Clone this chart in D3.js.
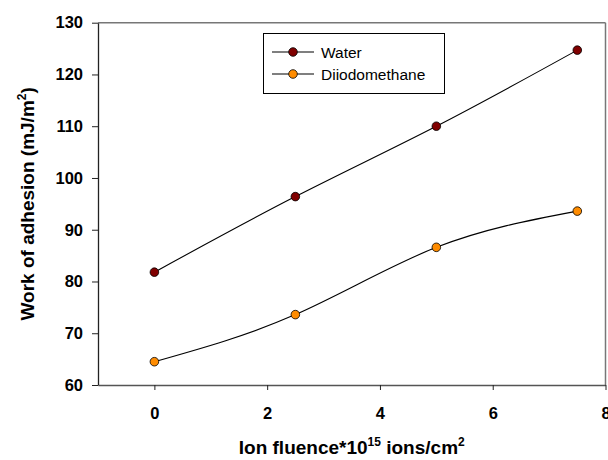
<!DOCTYPE html>
<html><head><meta charset="utf-8">
<script src="https://cdn.jsdelivr.net/npm/d3@7"></script>
<style>body{margin:0;background:#fff}svg{display:block;font-family:"Liberation Sans",Arial,sans-serif}</style>
</head><body><svg id="c" width="608" height="460"></svg>
<script>
const fluence = [0, 2.5, 5, 7.5];
const water = [81.8, 96.4, 110.0, 124.7];
const diiodomethane = [64.5, 73.6, 86.6, 93.6];
const xTicks = [0, 2, 4, 6, 8];
const yTicks = [60, 70, 80, 90, 100, 110, 120, 130];
const seriesNames = ["Water", "Diiodomethane"];
const seriesColors = ["#800000", "#FF8C00"];

const svg = d3.select("#c");
const L = 98, R = 605.5, T = 22.7, B = 385;
const x = d3.scaleLinear().domain([-1, 8]).range([L, R]);
const y = d3.scaleLinear().domain([60, 130]).range([B, T]);

// frame
svg.append("line").attr("x1", L).attr("x2", R).attr("y1", T).attr("y2", T).attr("stroke", "#777").attr("stroke-width", 1.5);
svg.append("line").attr("x1", R).attr("x2", R).attr("y1", T).attr("y2", B).attr("stroke", "#777").attr("stroke-width", 1.5);

const xa = svg.append("g").attr("transform", `translate(0,${B})`)
  .call(d3.axisBottom(x).tickValues(xTicks).tickSize(5).tickPadding(17).tickSizeOuter(0));
const ya = svg.append("g").attr("transform", `translate(${L},0)`)
  .call(d3.axisLeft(y).tickValues(yTicks).tickSize(6).tickPadding(9).tickSizeOuter(0));
[xa, ya].forEach(a => {
  a.select(".domain").attr("stroke", "#222").attr("stroke-width", 1.3);
  a.selectAll(".tick line").attr("stroke", "#222").attr("stroke-width", 1);
  a.selectAll("text").attr("font-size", 16.5).attr("font-weight", "bold").attr("fill", "#000")
    .attr("font-family", "'Liberation Sans',Arial,sans-serif");
});
xa.select(".domain").attr("stroke", "#555");

const data = [water, diiodomethane];
const line = d3.line().x((d, i) => x(fluence[i])).y(d => y(d)).curve(d3.curveNatural);
data.forEach((s, k) => {
  svg.append("path").attr("d", line(s)).attr("fill", "none").attr("stroke", "#000").attr("stroke-width", 1.1);
  svg.selectAll(null).data(s).enter().append("circle")
    .attr("cx", (d, i) => x(fluence[i])).attr("cy", d => y(d)).attr("r", 4.3)
    .attr("fill", seriesColors[k]).attr("stroke", "#000").attr("stroke-width", 0.8);
});

// legend
const lg = svg.append("g");
lg.append("rect").attr("x", 263.5).attr("y", 33.5).attr("width", 181).attr("height", 60)
  .attr("fill", "#fff").attr("stroke", "#000").attr("stroke-width", 1);
seriesNames.forEach((n, k) => {
  const yy = 52 + k * 22;
  lg.append("line").attr("x1", 272).attr("x2", 314).attr("y1", yy).attr("y2", yy).attr("stroke", "#000").attr("stroke-width", 1.1);
  lg.append("circle").attr("cx", 293).attr("cy", yy).attr("r", 4.3).attr("fill", seriesColors[k]).attr("stroke", "#000").attr("stroke-width", 0.8);
  lg.append("text").attr("x", 321).attr("y", yy + 5.5).attr("font-size", 15.5).text(n);
});

// axis titles
const xt = svg.append("text").attr("x", (L + R) / 2).attr("y", 454).attr("text-anchor", "middle")
  .attr("font-size", 19).attr("font-weight", "bold");
xt.append("tspan").text("Ion fluence*10");
xt.append("tspan").attr("font-size", 12).attr("dy", -8).text("15");
xt.append("tspan").attr("dy", 8).text(" ions/cm");
xt.append("tspan").attr("font-size", 12).attr("dy", -8).text("2");

const yt = svg.append("text").attr("transform", `translate(33.5,${(T + B) / 2}) rotate(-90)`).attr("text-anchor", "middle")
  .attr("font-size", 19).attr("font-weight", "bold");
yt.append("tspan").text("Work of adhesion (mJ/m");
yt.append("tspan").attr("font-size", 12).attr("dy", -8).text("2");
yt.append("tspan").attr("dy", 8).text(")");
</script></body></html>
